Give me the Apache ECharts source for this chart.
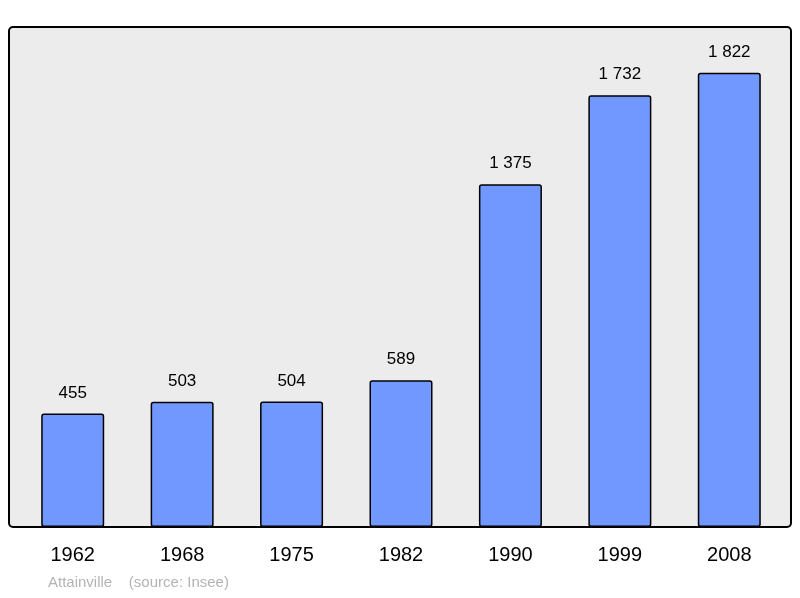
<!DOCTYPE html>
<html><head><meta charset="utf-8">
<script src="https://cdn.jsdelivr.net/npm/echarts@6/dist/echarts.min.js"></script>
<style>html,body{margin:0;padding:0;background:#fff}#c{width:800px;height:598px}</style>
</head><body><div id="c"></div>
<script>
const years = ['1962','1968','1975','1982','1990','1999','2008'];
const population = [455, 503, 504, 589, 1375, 1732, 1822];
const chart = echarts.init(document.getElementById('c'));
const fmt = v => String(v).replace(/\B(?=(\d{3})+(?!\d))/g, ' ');
chart.setOption({
  animation: false,
  graphic: [
    {type:'rect', z:-10, shape:{x:9,y:27,width:782,height:500,r:4}, style:{fill:'#ececec',stroke:'#000',lineWidth:2}},
    {type:'text', left:48, top:575, style:{text:'Attainville    (source: Insee)', fill:'#b3b3b3', font:'15px "Liberation Sans", Arial, sans-serif'}}
  ],
  grid: {left:18, right:16, top:27, bottom:71},
  xAxis: {type:'category', data:years, axisLine:{show:false}, axisTick:{show:false},
    axisLabel:{color:'#000', fontSize:20, fontFamily:'"Liberation Sans", Arial', margin:18}},
  yAxis: {type:'value', min:0, max:2006, show:false, splitLine:{show:false}},
  series: [{type:'bar', data:population, barWidth:63,
    itemStyle:{color:'#7098ff', borderColor:'#000', borderWidth:1.5, borderRadius:2},
    label:{show:true, position:'top', distance:12, color:'#000', fontSize:17, fontFamily:'"Liberation Sans", Arial',
      formatter: p => fmt(p.value)}}]
});
</script></body></html>
